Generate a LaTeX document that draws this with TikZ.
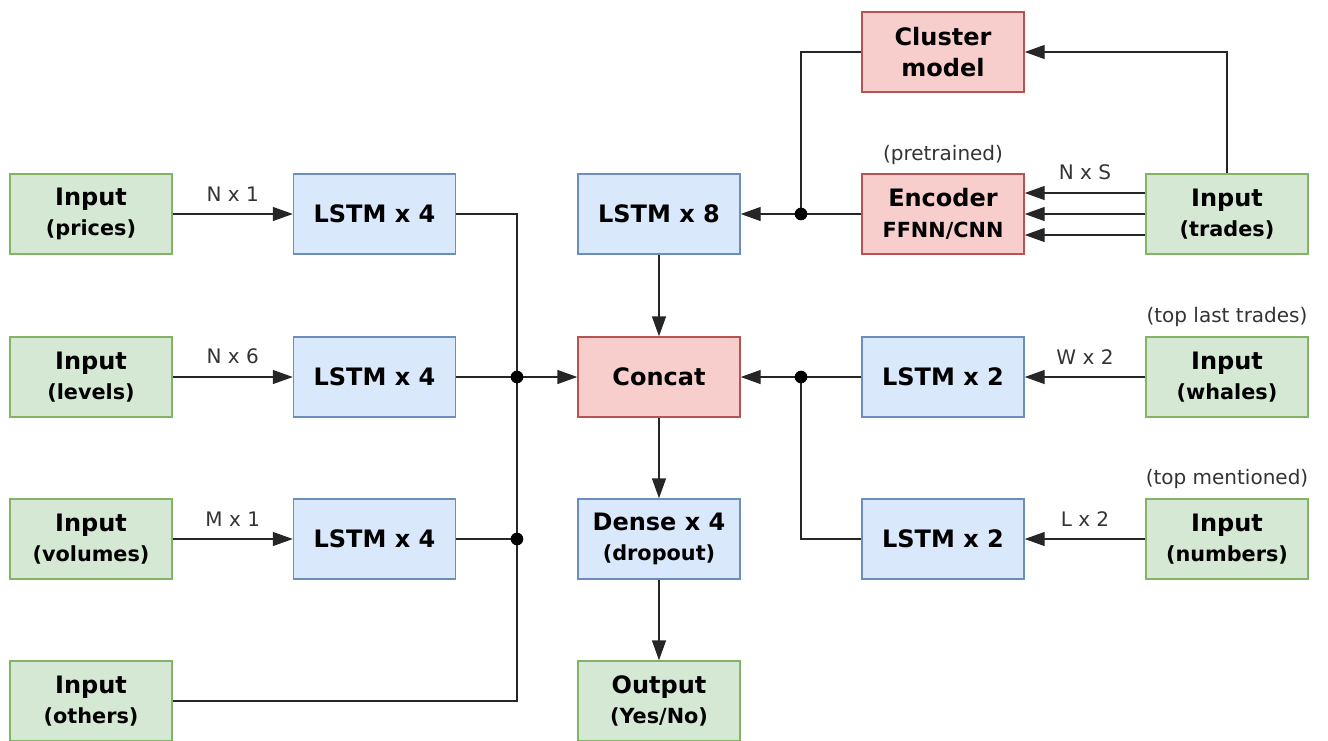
\documentclass[tikz,border=0pt]{standalone}
\usepackage{fontspec}
\setmainfont{DejaVu Sans}
\usetikzlibrary{arrows.meta,calc}
\definecolor{gfill}{HTML}{D5E8D4}\definecolor{gline}{HTML}{82B366}
\definecolor{bfill}{HTML}{DAE8FC}\definecolor{bline}{HTML}{6C8EBF}
\definecolor{rfill}{HTML}{F8CECC}\definecolor{rline}{HTML}{B85450}
\newcommand{\sub}[1]{{\fontsize{15.6}{23}\selectfont #1}}
\begin{document}
\begin{tikzpicture}[x=0.75pt,y=-0.75pt,
  box/.style={draw, line width=1.1pt, minimum width=121.5pt, minimum height=60pt,
    align=center, inner sep=0pt, font=\bfseries\fontsize{18}{23}\selectfont},
  inbox/.style={box, fill=gfill, draw=gline},
  nnbox/.style={box, fill=bfill, draw=bline},
  modbox/.style={box, fill=rfill, draw=rline},
  wire/.style={line width=1.1pt, draw=black!85},
  arr/.style={wire, -{Triangle[length=15pt,width=10.5pt]}},
  lbl/.style={font=\fontsize{15}{18}\selectfont, text=black!80, inner sep=0pt},
  dot/.style={circle, fill=black, inner sep=0pt, minimum size=9.5pt}]
\useasboundingbox (0,0) rectangle (1328,740);

% left column: inputs
\node[inbox] (inprices)  at (91,214) {Input\\\sub{(prices)}};
\node[inbox] (inlevels)  at (91,377) {Input\\\sub{(levels)}};
\node[inbox] (involumes) at (91,539) {Input\\\sub{(volumes)}};
\node[inbox] (inothers)  at (91,701) {Input\\\sub{(others)}};

% recurrent layers
\node[nnbox] (lstma) at (374.5,214) {LSTM x 4};
\node[nnbox] (lstmb) at (374.5,377) {LSTM x 4};
\node[nnbox] (lstmc) at (374.5,539) {LSTM x 4};

% centre column
\node[nnbox]  (lstmt)  at (659,214) {LSTM x 8};
\node[modbox] (concat) at (659,377) {Concat};
\node[nnbox]  (dense)  at (659,539) {Dense x 4\\\sub{(dropout)}};
\node[inbox]  (output) at (659,701) {Output\\\sub{(Yes/No)}};

% right side
\node[modbox] (cluster) at (943,52)  {Cluster\\model};
\node[modbox] (encoder) at (943,214) {Encoder\\\sub{FFNN/CNN}};
\node[nnbox]  (lstmw)   at (943,377) {LSTM x 2};
\node[nnbox]  (lstmn)   at (943,539) {LSTM x 2};
\node[inbox]  (intrades)  at (1227,214) {Input\\\sub{(trades)}};
\node[inbox]  (inwhales)  at (1227,377) {Input\\\sub{(whales)}};
\node[inbox]  (innumbers) at (1227,539) {Input\\\sub{(numbers)}};

% captions above boxes
\node[lbl] (cappre) at (943,155)  {(pretrained)};
\node[lbl] (capwh)  at (1227,317) {(top last trades)};
\node[lbl] (capnum) at (1227,479) {(top mentioned)};

% bus junctions
\coordinate (la) at (517,214);
\coordinate (lb) at (517,377);
\coordinate (lc) at (517,539);
\coordinate (ld) at (517,701);
\coordinate (ra) at (801,214);
\coordinate (rb) at (801,377);

% inputs into LSTMs
\draw[arr] (inprices.east)  -- node[lbl, above=9pt] {N x 1} (lstma.west);
\draw[arr] (inlevels.east)  -- node[lbl, above=9pt] {N x 6} (lstmb.west);
\draw[arr] (involumes.east) -- node[lbl, above=9pt] {M x 1} (lstmc.west);

% left bus into concat
\draw[wire] (lstma.east) -- (la) -- (ld) -- (inothers.east);
\draw[wire] (lstmb.east) -- (lb);
\draw[wire] (lstmc.east) -- (lc);
\draw[arr] (lb) -- (concat.west);
\node[dot] at (lb) {};
\node[dot] at (lc) {};

% centre column flow
\draw[arr] (lstmt.south) -- (concat.north);
\draw[arr] (concat.south) -- (dense.north);
\draw[arr] (dense.south) -- (output.north);

% trades branch
\draw[arr] ($(intrades.west)+(0,-21)$) -- node[lbl, above=9pt] {N x S} ($(encoder.east)+(0,-21)$);
\draw[arr] (intrades.west) -- (encoder.east);
\draw[arr] ($(intrades.west)+(0,21)$) -- ($(encoder.east)+(0,21)$);
\draw[arr] (intrades.north) |- (cluster.east);
\draw[arr] (encoder.west) -- (lstmt.east);
\draw[wire] (cluster.west) -| (ra);
\node[dot] at (ra) {};

% whales and numbers branch
\draw[arr] (inwhales.west)  -- node[lbl, above=9pt] {W x 2} (lstmw.east);
\draw[arr] (innumbers.west) -- node[lbl, above=9pt] {L x 2} (lstmn.east);
\draw[arr] (lstmw.west) -- (concat.east);
\draw[wire] (lstmn.west) -| (rb);
\node[dot] at (rb) {};
\end{tikzpicture}
\end{document}
